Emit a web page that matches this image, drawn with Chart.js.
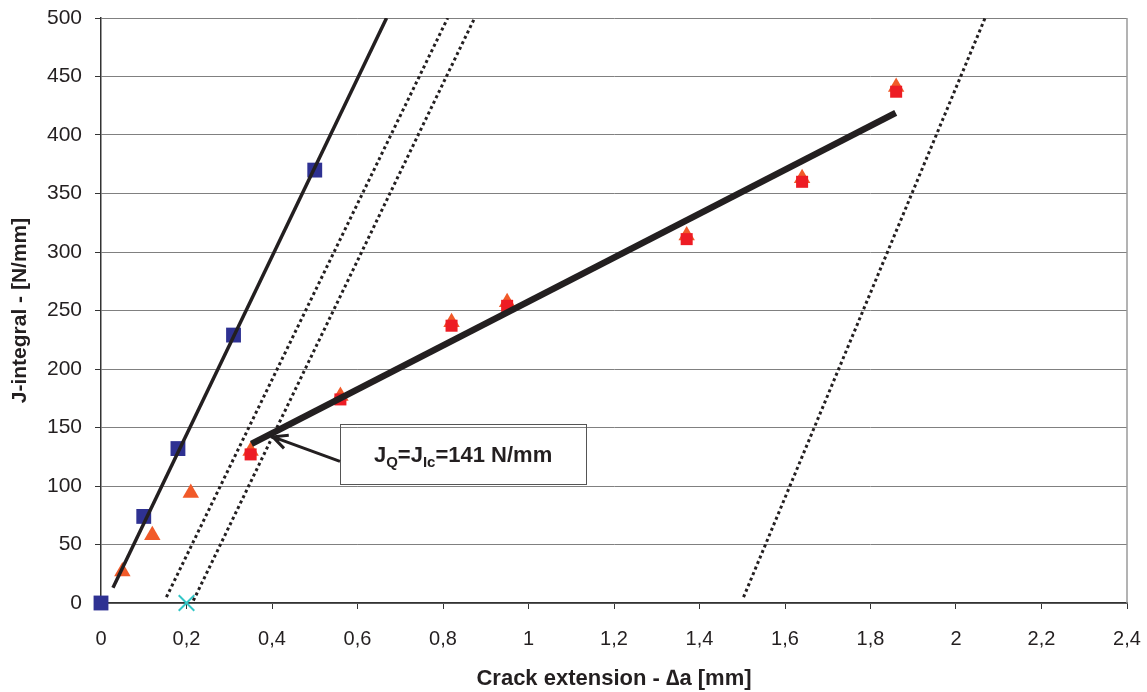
<!DOCTYPE html>
<html>
<head>
<meta charset="utf-8">
<script src="https://cdn.jsdelivr.net/npm/chart.js@4.4.1/dist/chart.umd.min.js"></script>
<style>
  body { margin: 0; background: #fff; }
</style>
</head>
<body>
<canvas id="myChart" width="1147" height="692"></canvas>
<script>
/* values */
const blueX = [0, 0.1, 0.18, 0.31, 0.5];
const blueY = [0, 74, 132, 229, 370];
const triX = [0.05, 0.12, 0.21, 0.35, 0.56, 0.82, 0.95, 1.37, 1.64, 1.86];
const triY = [27, 58, 94, 130, 177, 240, 257, 314, 363, 441];
const redX = [0.35, 0.56, 0.82, 0.95, 1.37, 1.64, 1.86];
const redY = [127, 174, 237, 254, 311, 360, 437];
const startX = [0.2];
const startY = [0];

// straight lines, two end points each
const bluntX = [0.028, 0.668];
const bluntY = [13, 500];
const excl1X = [0.153, 0.811];
const excl1Y = [5, 500];
const excl2X = [0.216, 0.874];
const excl2Y = [2, 500];
const excl3X = [1.503, 2.068];
const excl3Y = [5, 500];
const fitX = [0.352, 1.859];
const fitY = [136, 419];

// note: J_Q = J_Ic
const noteValue = 141;
const noteTip = [0.402, 142];
const noteBoxX = [0.559, 1.135];
const noteBoxY = [101.5, 153];

function pts(xs, ys) {
  return xs.map((v, i) => ({ x: v, y: ys[i] }));
}

function lineSet(xs, ys, width, dash) {
  return {
    data: pts(xs, ys),
    showLine: true,
    borderColor: '#231f20',
    borderWidth: width,
    borderDash: dash,
    pointRadius: 0,
    order: 0
  };
}

const notePlugin = {
  id: 'note',
  afterDatasetsDraw(chart) {
    const ctx = chart.ctx;
    const area = chart.chartArea;
    const x = chart.scales.x;
    const y = chart.scales.y;
    ctx.save();

    // right frame line
    ctx.strokeStyle = '#9a9a9a';
    ctx.lineWidth = 1.5;
    ctx.beginPath();
    ctx.moveTo(area.right, area.top);
    ctx.lineTo(area.right, area.bottom);
    ctx.stroke();

    // box
    const bx0 = x.getPixelForValue(noteBoxX[0]);
    const bx1 = x.getPixelForValue(noteBoxX[1]);
    const by0 = y.getPixelForValue(noteBoxY[1]);
    const by1 = y.getPixelForValue(noteBoxY[0]);
    ctx.strokeStyle = '#555';
    ctx.lineWidth = 1;
    ctx.strokeRect(Math.round(bx0) + 0.5, Math.round(by0) + 0.5, Math.round(bx1 - bx0), Math.round(by1 - by0));

    // arrow
    const tx = x.getPixelForValue(noteTip[0]);
    const ty = y.getPixelForValue(noteTip[1]);
    const sx = bx0;
    const sy = by0 + (by1 - by0) * 0.62;
    ctx.strokeStyle = '#231f20';
    ctx.lineWidth = 3;
    ctx.beginPath();
    ctx.moveTo(sx, sy);
    ctx.lineTo(tx, ty);
    const ang = Math.atan2(ty - sy, tx - sx);
    const len = 16;
    ctx.moveTo(tx - len * Math.cos(ang - 0.45), ty - len * Math.sin(ang - 0.45));
    ctx.lineTo(tx, ty);
    ctx.lineTo(tx - len * Math.cos(ang + 0.45), ty - len * Math.sin(ang + 0.45));
    ctx.stroke();

    // text with subscripts
    const big = 'bold 22px "Liberation Sans", Arial, sans-serif';
    const small = 'bold 15px "Liberation Sans", Arial, sans-serif';
    const parts = [
      ['J', big, 0], ['Q', small, 5], ['=J', big, 0], ['Ic', small, 5], ['=' + noteValue + ' N/mm', big, 0]
    ];
    let total = 0;
    parts.forEach(p => { ctx.font = p[1]; total += ctx.measureText(p[0]).width; });
    let cx = (bx0 + bx1) / 2 - total / 2;
    const base = (by0 + by1) / 2 + 8;
    ctx.fillStyle = '#231f20';
    ctx.textBaseline = 'alphabetic';
    ctx.textAlign = 'left';
    parts.forEach(p => {
      ctx.font = p[1];
      ctx.fillText(p[0], cx, base + p[2]);
      cx += ctx.measureText(p[0]).width;
    });
    ctx.restore();
  }
};

const ctx = document.getElementById('myChart');
var config = {
  type: 'scatter',
  data: {
    datasets: [
      lineSet(fitX, fitY, 6.5, []),
      lineSet(bluntX, bluntY, 3.5, []),
      lineSet(excl1X, excl1Y, 3, [3, 3]),
      lineSet(excl2X, excl2Y, 3, [3, 3]),
      lineSet(excl3X, excl3Y, 3, [3, 3]),
      {
        data: pts(startX, startY),
        pointStyle: 'crossRot',
        pointRadius: 11,
        borderWidth: 2,
        borderColor: '#33c6c6',
        clip: false,
        order: 1
      },
      {
        data: pts(redX, redY),
        pointStyle: 'rect',
        pointRadius: 8.5,
        backgroundColor: '#ed1c24',
        borderColor: '#ed1c24',
        borderWidth: 0,
        order: 2
      },
      {
        data: pts(triX, triY),
        pointStyle: 'triangle',
        pointRadius: 9.5,
        backgroundColor: '#f15a29',
        borderColor: '#f15a29',
        borderWidth: 0,
        order: 3
      },
      {
        data: pts(blueX, blueY),
        pointStyle: 'rect',
        pointRadius: 10.5,
        backgroundColor: '#2e3192',
        borderColor: '#2e3192',
        borderWidth: 0,
        clip: false,
        order: 4
      }
    ]
  },
  options: {
    responsive: false,
    animation: false,
    layout: { padding: { top: 18, right: 20, left: 0, bottom: 0 } },
    plugins: {
      legend: { display: false },
      tooltip: { enabled: false }
    },
    scales: {
      x: {
        type: 'linear',
        min: 0,
        max: 2.4,
        afterFit: (s) => { s.height = 89; s.paddingLeft = 0; s.paddingRight = 0; },
        border: { color: '#333', width: 1.5 },
        grid: { drawOnChartArea: false, drawTicks: true, tickLength: 6, tickColor: '#333' },
        ticks: {
          stepSize: 0.2,
          padding: 18,
          color: '#231f20',
          font: { family: '"Liberation Sans", Arial, sans-serif', size: 20 },
          callback: (v) => String(Math.round(v * 10) / 10).replace('.', ',')
        },
        title: {
          display: true,
          text: 'Crack extension - \u2206a [mm]',
          color: '#231f20',
          padding: { top: 0, bottom: 0 },
          font: { family: '"Liberation Sans", Arial, sans-serif', size: 22, weight: 'bold' }
        }
      },
      y: {
        min: 0,
        max: 500,
        afterFit: (s) => { s.width = 101; s.paddingTop = 0; s.paddingBottom = 0; },
        border: { color: '#333', width: 1.5 },
        grid: { color: '#808080', lineWidth: 1, tickLength: 6, tickColor: '#333' },
        ticks: {
          stepSize: 50,
          padding: 13,
          color: '#231f20',
          font: { family: '"Liberation Sans", Arial, sans-serif', size: 21 }
        },
        title: {
          display: true,
          text: 'J-integral - [N/mm]',
          color: '#231f20',
          padding: { top: 8, bottom: 0 },
          font: { family: '"Liberation Sans", Arial, sans-serif', size: 21, weight: 'bold' }
        }
      }
    }
  },
  plugins: [notePlugin]
};

var myChart = new Chart(ctx, config);
</script>
</body>
</html>
